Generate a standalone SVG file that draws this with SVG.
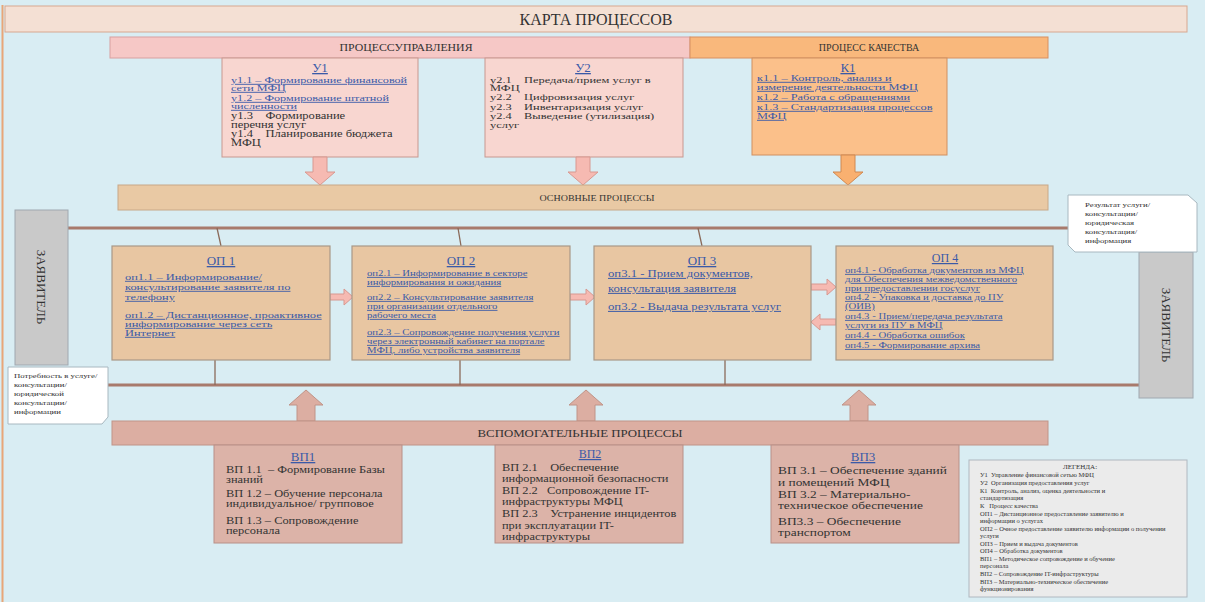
<svg xmlns="http://www.w3.org/2000/svg" width="1205" height="602" viewBox="0 0 1205 602" xml:space="preserve">
<style>
text{font-family:"Liberation Serif","Times New Roman",serif;fill:#333;white-space:pre}
.t{font-size:13px;fill:#3a5aa8;text-decoration:underline;text-anchor:middle}
.b{fill:#3a5aa8;text-decoration:underline}
.c{text-anchor:middle}
.u{fill:#f8d6d0;stroke:#c89890;stroke-width:1}
.k{fill:#fbc08a;stroke:#d09060;stroke-width:1}
.op{fill:#e8c6a2;stroke:#a89888;stroke-width:1.2}
.vp{fill:#dcb3a8;stroke:#b89088;stroke-width:1}
.z{fill:#c9c9c9;stroke:#a0a8b0;stroke-width:1}
.n{fill:#ffffff;stroke:#a8b8c0;stroke-width:1}
.pa{fill:#f6bab2;stroke:#d89890;stroke-width:1}
.ln{stroke:#a87a6c;stroke-width:3;fill:none}
.thin{stroke:#8a6a5a;stroke-width:1.3;fill:none}
.leg{font-size:6.5px}
</style>
<rect x="0" y="0" width="1205" height="602" fill="#d9edf3"/>
<line x1="2.5" y1="5" x2="2.5" y2="602" stroke="#e8a678" stroke-width="2"/>

<g id="title">
<rect x="5" y="6" width="1182" height="26" fill="#f4e0d4" stroke="#d8a890"/>
<text x="596" y="25" class="c" style="font-size:16px">КАРТА ПРОЦЕССОВ</text>
</g>
<g id="hdr-upr">
<rect x="110" y="37" width="580" height="21" fill="#f6c8c6" stroke="#d8a0a0"/>
<text x="406" y="51" class="c" style="font-size:10px" textLength="133" lengthAdjust="spacingAndGlyphs">ПРОЦЕССУПРАВЛЕНИЯ</text>
</g>
<g id="hdr-kach">
<rect x="690" y="37" width="358" height="21" fill="#f9b87c" stroke="#d89060"/>
<text x="869" y="51" class="c" style="font-size:10px">ПРОЦЕСС КАЧЕСТВА</text>
</g>

<g id="U1">
<rect x="222" y="58" width="196" height="99" class="u"/>
<text x="320" y="72" class="t">У1</text>
<g transform="matrix(1.35 0 0 1 -80.85 0)" style="font-size:9px">
<text class="b" x="231" y="83">у1.1 – Формирование финансовой</text>
<text class="b" x="231" y="91">сети МФЦ</text>
<text class="b" x="231" y="101">у1.2 – Формирование штатной</text>
<text class="b" x="231" y="109">численности</text>
<text x="231" y="119" style="font-size:9.3px">у1.3    Формирование</text>
<text x="231" y="128" style="font-size:9.3px">перечня услуг</text>
<text x="231" y="137" style="font-size:9.3px">у1.4    Планирование бюджета</text>
<text x="231" y="146" style="font-size:9.3px">МФЦ</text>
</g>
</g>
<g id="U2">
<rect x="485" y="58" width="198" height="99" class="u"/>
<text x="583" y="72" class="t">У2</text>
<g transform="matrix(1.38 0 0 1 -186.2 0)" style="font-size:9px">
<text x="490" y="83">у2.1    Передача/прием услуг в</text>
<text x="490" y="91">МФЦ</text>
<text x="490" y="100">у2.2    Цифровизация услуг</text>
<text x="490" y="110">у2.3    Инвентаризация услуг</text>
<text x="490" y="119">у2.4    Выведение (утилизация)</text>
<text x="490" y="128">услуг</text>
</g>
</g>
<g id="K1">
<rect x="752" y="58" width="195" height="97" class="k"/>
<text x="848" y="72" class="t">К1</text>
<g transform="matrix(1.37 0 0 1 -280.09 0)" style="font-size:9px">
<text class="b" x="757" y="81">к1.1 – Контроль, анализ и</text>
<text class="b" x="757" y="90">измерение деятельности МФЦ</text>
<text class="b" x="757" y="100">к1.2 – Работа с обращениями</text>
<text class="b" x="757" y="110">к1.3 – Стандартизация процессов</text>
<text class="b" x="757" y="119">МФЦ</text>
</g>
</g>

<g id="connectors">
<path class="pa" d="M313 157 h14 v15 h8 l-15 13 l-15 -13 h8 z"/>
<path class="pa" d="M576 157 h14 v15 h8 l-15 13 l-15 -13 h8 z"/>
<path d="M841 155 h14 v17 h8 l-15 13 l-15 -13 h8 z" fill="#f9b070" stroke="#d08850"/>
<line class="ln" x1="68" y1="228" x2="1068" y2="228"/>
<line class="ln" x1="108" y1="385" x2="1139" y2="385"/>
<line class="thin" x1="217" y1="228" x2="221" y2="246"/>
<line class="thin" x1="458" y1="228" x2="461" y2="246"/>
<line class="thin" x1="698" y1="228" x2="702" y2="246"/>
<line class="thin" x1="215" y1="360" x2="215" y2="385"/>
<line class="thin" x1="460" y1="360" x2="460" y2="385"/>
<line class="thin" x1="725" y1="360" x2="725" y2="385"/>
<path class="pa" d="M330 294 h14 v-5 l9 8 l-9 8 v-5 h-14 z"/>
<path class="pa" d="M570 294 h16 v-5 l9 8 l-9 8 v-5 h-16 z"/>
<path class="pa" d="M811 284 h16 v-5 l9 8 l-9 8 v-5 h-16 z"/>
<path class="pa" d="M836 319 h-16 v-5 l-9 8 l9 8 v-5 h16 z"/>
<path d="M297 421 v-16 h-8 l17 -15 l17 15 h-8 v16 z" fill="#dcaea2" stroke="#c09488"/>
<path d="M577 421 v-16 h-8 l17 -15 l17 15 h-8 v16 z" fill="#dcaea2" stroke="#c09488"/>
<path d="M850 421 v-16 h-8 l17 -15 l17 15 h-8 v16 z" fill="#dcaea2" stroke="#c09488"/>
</g>

<g id="osn">
<rect x="118" y="185" width="930" height="25" fill="#e9c9a4" stroke="#c8a888"/>
<text x="597" y="201" class="c" style="font-size:9px" textLength="115" lengthAdjust="spacingAndGlyphs">ОСНОВНЫЕ ПРОЦЕССЫ</text>
</g>

<g id="zayav-left">
<rect x="15" y="210" width="53" height="155" class="z"/>
<text transform="translate(37 287) rotate(90)" class="c" style="font-size:13px">ЗАЯВИТЕЛЬ</text>
</g>
<g id="note-left">
<path class="n" d="M8 367 h100 v50 l-6 7 h-94 z"/>
<g transform="matrix(1.25 0 0 1 -3.5 0)" style="font-size:7px">
<text x="14" y="378">Потребность в услуге/</text>
<text x="14" y="387">консультации/</text>
<text x="14" y="396">юридической</text>
<text x="14" y="405">консультации/</text>
<text x="14" y="414">информации</text>
</g>
</g>
<g id="zayav-right">
<rect x="1139" y="252" width="54" height="146" class="z"/>
<text transform="translate(1162 325) rotate(90)" class="c" style="font-size:13px">ЗАЯВИТЕЛЬ</text>
</g>
<g id="note-right">
<path class="n" d="M1068 195 h120 l9 8 v49 h-122 l-7 -7 z"/>
<g transform="matrix(1.25 0 0 1 -271.25 0)" style="font-size:7px">
<text x="1085" y="207">Результат услуги/</text>
<text x="1085" y="216">консультации/</text>
<text x="1085" y="225">юридическая</text>
<text x="1085" y="234">консультация/</text>
<text x="1085" y="243">информация</text>
</g>
</g>

<g id="OP1">
<rect x="112" y="246" width="218" height="114" class="op"/>
<text x="221" y="265" class="t">ОП 1</text>
<g transform="matrix(1.38 0 0 1 -47.5 0)" style="font-size:9px">
<text class="b" x="125" y="280">оп1.1 – Информирование/</text>
<text class="b" x="125" y="290">консультирование заявителя по</text>
<text class="b" x="125" y="300">телефону</text>
<text class="b" x="125" y="318">оп1.2 – Дистанционное, проактивное</text>
<text class="b" x="125" y="327">информирование через сеть</text>
<text class="b" x="125" y="336">Интернет</text>
</g>
</g>
<g id="OP2">
<rect x="352" y="246" width="218" height="114" class="op"/>
<text x="461" y="265" class="t">ОП 2</text>
<g transform="matrix(1.22 0 0 1 -80.74 0)" style="font-size:8.8px">
<text class="b" x="367" y="276">оп2.1 – Информирование в секторе</text>
<text class="b" x="367" y="285">информирования и ожидания</text>
<text class="b" x="367" y="300">оп2.2 – Консультирование заявителя</text>
<text class="b" x="367" y="309">при организации отдельного</text>
<text class="b" x="367" y="318">рабочего места</text>
<text class="b" x="367" y="335">оп2.3 – Сопровождение получения услуги</text>
<text class="b" x="367" y="344">через электронный кабинет на портале</text>
<text class="b" x="367" y="353">МФЦ, либо устройства заявителя</text>
</g>
</g>
<g id="OP3">
<rect x="594" y="246" width="217" height="114" class="op"/>
<text x="702" y="265" class="t">ОП 3</text>
<g transform="matrix(1.27 0 0 1 -164.16 0)" style="font-size:10px">
<text class="b" x="608" y="277">оп3.1 - Прием документов,</text>
<text class="b" x="608" y="292">консультация заявителя</text>
<text class="b" x="608" y="310">оп3.2 - Выдача результата услуг</text>
</g>
</g>
<g id="OP4">
<rect x="836" y="246" width="217" height="114" class="op"/>
<text x="945" y="262" class="t" style="font-size:12px">ОП 4</text>
<g transform="matrix(1.22 0 0 1 -185.9 0)" style="font-size:8.8px">
<text class="b" x="845" y="273">оп4.1 - Обработка документов из МФЦ</text>
<text class="b" x="845" y="282">для Обеспечения межведомственного</text>
<text class="b" x="845" y="291">при предоставлении госуслуг</text>
<text class="b" x="845" y="300">оп4.2 - Упаковка и доставка до ПУ</text>
<text class="b" x="845" y="309">(ОИВ)</text>
<text class="b" x="845" y="319">оп4.3 - Прием/передача результата</text>
<text class="b" x="845" y="328">услуги из ПУ в МФЦ</text>
<text class="b" x="845" y="338">оп4.4 - Обработка ошибок</text>
<text class="b" x="845" y="348">оп4.5 - Формирование архива</text>
</g>
</g>

<g id="vsp">
<rect x="112" y="421" width="936" height="24" fill="#dcaea2" stroke="#c09488"/>
<text x="580" y="437" class="c" style="font-size:10px" textLength="205" lengthAdjust="spacingAndGlyphs">ВСПОМОГАТЕЛЬНЫЕ ПРОЦЕССЫ</text>
</g>
<g id="VP1">
<rect x="214" y="445" width="188" height="98" class="vp"/>
<text x="303" y="461" class="t">ВП1</text>
<g transform="matrix(1.24 0 0 1 -54.24 0)" style="font-size:10px">
<text x="226" y="473">ВП 1.1  – Формирование Базы</text>
<text x="226" y="483">знаний</text>
<text x="226" y="497">ВП 1.2 – Обучение персонала</text>
<text x="226" y="507">индивидуальное/ групповое</text>
<text x="226" y="524">ВП 1.3 – Сопровождение</text>
<text x="226" y="534">персонала</text>
</g>
</g>
<g id="VP2">
<rect x="495" y="445" width="188" height="98" class="vp"/>
<text x="590" y="458" class="t" style="font-size:12px">ВП2</text>
<g transform="matrix(1.24 0 0 1 -120.48 0)" style="font-size:10px">
<text x="502" y="471">ВП 2.1    Обеспечение</text>
<text x="502" y="482">информационной безопасности</text>
<text x="502" y="494">ВП 2.2   Сопровождение IT-</text>
<text x="502" y="505">инфраструктуры МФЦ</text>
<text x="502" y="517">ВП 2.3    Устранение инцидентов</text>
<text x="502" y="529">при эксплуатации IT-</text>
<text x="502" y="540">инфраструктуры</text>
</g>
</g>
<g id="VP3">
<rect x="771" y="445" width="188" height="98" class="vp"/>
<text x="863" y="461" class="t">ВП3</text>
<g transform="matrix(1.34 0 0 1 -264.52 0)" style="font-size:10px">
<text x="778" y="474">ВП 3.1 – Обеспечение зданий</text>
<text x="778" y="486">и помещений МФЦ</text>
<text x="778" y="498">ВП 3.2 – Материально-</text>
<text x="778" y="509">техническое обеспечение</text>
<text x="778" y="525">ВП3.3 – Обеспечение</text>
<text x="778" y="536">транспортом</text>
</g>
</g>

<g id="legend">
<rect x="969" y="460" width="218" height="137" fill="#ebebeb" stroke="#b0b8c0"/>
<text x="1080" y="469" class="c leg" style="font-size:7px">ЛЕГЕНДА:</text>
<text class="leg" x="980" y="477">У1  Управление финансовой сетью МФЦ</text>
<text class="leg" x="980" y="485">У2  Организация предоставления услуг</text>
<text class="leg" x="980" y="493">К1  Контроль, анализ, оценка деятельности и</text>
<text class="leg" x="980" y="500">стандартизация</text>
<text class="leg" x="980" y="508">К   Процесс качества</text>
<text class="leg" x="980" y="516">ОП1 – Дистанционное предоставление заявителю и</text>
<text class="leg" x="980" y="523">информации о услугах</text>
<text class="leg" x="980" y="531">ОП2 – Очное предоставление заявителю информации о получении</text>
<text class="leg" x="980" y="538">услуги</text>
<text class="leg" x="980" y="546">ОП3 – Прием и выдача документов</text>
<text class="leg" x="980" y="553">ОП4 – Обработка документов</text>
<text class="leg" x="980" y="561">ВП1 – Методическое сопровождение и обучение</text>
<text class="leg" x="980" y="568">персонала</text>
<text class="leg" x="980" y="576">ВП2 – Сопровождение IT-инфраструктуры</text>
<text class="leg" x="980" y="584">ВП3 – Материально-техническое обеспечение</text>
<text class="leg" x="980" y="591">функционирования</text>
</g>
</svg>
